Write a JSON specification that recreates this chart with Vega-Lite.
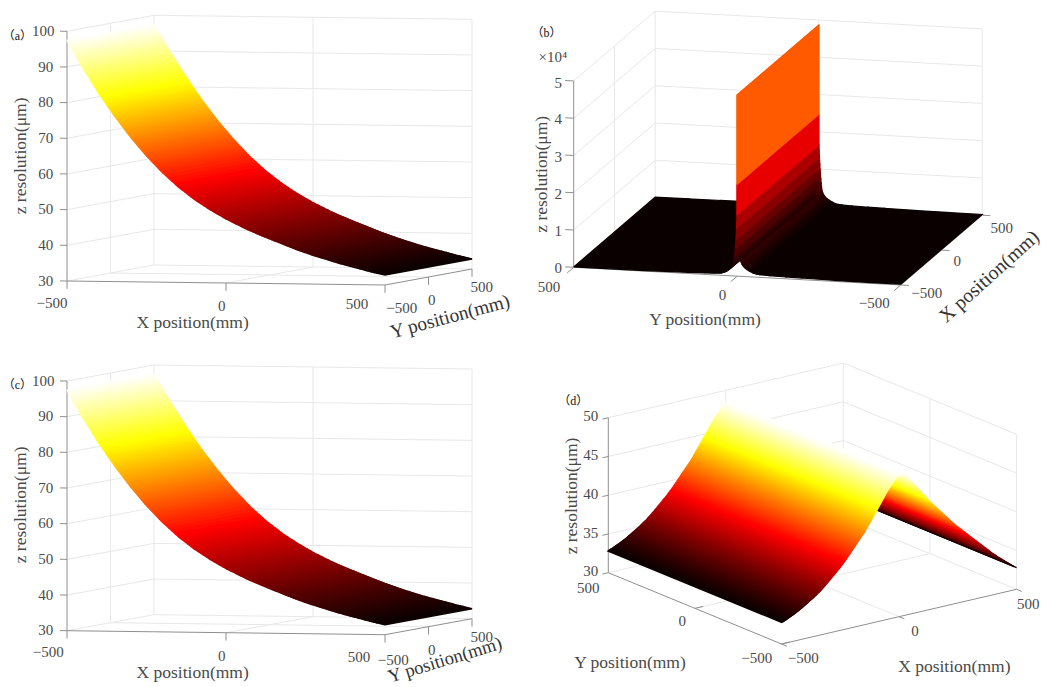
{"$schema":"https://vega.github.io/schema/vega-lite/v6.json","width":1045,"height":687,"autosize":{"type":"none"},"padding":0,"background":"white","config":{"view":{"stroke":null},"text":{"font":"Liberation Serif"}},
"datasets":{
"curveA":[{"X":-500,"z":97.5},{"X":-495,"z":96.7},{"X":-490,"z":95.9},{"X":-485,"z":95.1},{"X":-480,"z":94.3},{"X":-475,"z":93.6},{"X":-470,"z":92.8},{"X":-465,"z":92},{"X":-460,"z":91.3},{"X":-455,"z":90.5},{"X":-450,"z":89.8},{"X":-445,"z":89.1},{"X":-440,"z":88.4},{"X":-435,"z":87.7},{"X":-430,"z":87},{"X":-425,"z":86.3},{"X":-420,"z":85.6},{"X":-415,"z":84.9},{"X":-410,"z":84.2},{"X":-405,"z":83.5},{"X":-400,"z":82.8},{"X":-395,"z":82.15},{"X":-390,"z":81.5},{"X":-385,"z":80.9},{"X":-380,"z":80.25},{"X":-375,"z":79.6},{"X":-370,"z":78.95},{"X":-365,"z":78.3},{"X":-360,"z":77.7},{"X":-355,"z":77.05},{"X":-350,"z":76.4},{"X":-345,"z":75.8},{"X":-340,"z":75.25},{"X":-335,"z":74.65},{"X":-330,"z":74.1},{"X":-325,"z":73.5},{"X":-320,"z":72.9},{"X":-315,"z":72.35},{"X":-310,"z":71.75},{"X":-305,"z":71.2},{"X":-300,"z":70.6},{"X":-295,"z":70.1},{"X":-290,"z":69.55},{"X":-285,"z":69.05},{"X":-280,"z":68.5},{"X":-275,"z":68},{"X":-270,"z":67.5},{"X":-265,"z":66.95},{"X":-260,"z":66.45},{"X":-255,"z":65.9},{"X":-250,"z":65.4},{"X":-245,"z":64.95},{"X":-240,"z":64.5},{"X":-235,"z":64},{"X":-230,"z":63.55},{"X":-225,"z":63.1},{"X":-220,"z":62.65},{"X":-215,"z":62.2},{"X":-210,"z":61.7},{"X":-205,"z":61.25},{"X":-200,"z":60.8},{"X":-190,"z":60},{"X":-180,"z":59.2},{"X":-170,"z":58.4},{"X":-160,"z":57.6},{"X":-150,"z":56.8},{"X":-140,"z":56.1},{"X":-130,"z":55.45},{"X":-120,"z":54.75},{"X":-110,"z":54.1},{"X":-100,"z":53.4},{"X":-90,"z":52.8},{"X":-80,"z":52.25},{"X":-70,"z":51.65},{"X":-60,"z":51.1},{"X":-50,"z":50.5},{"X":-40,"z":50},{"X":-30,"z":49.5},{"X":-20,"z":49},{"X":-10,"z":48.5},{"X":0,"z":48},{"X":15,"z":47.35},{"X":30,"z":46.7},{"X":45,"z":46.05},{"X":60,"z":45.4},{"X":67.5,"z":45.1},{"X":75,"z":44.8},{"X":82.5,"z":44.52},{"X":90,"z":44.25},{"X":97.5,"z":43.97},{"X":105,"z":43.7},{"X":112.5,"z":43.42},{"X":120,"z":43.15},{"X":127.5,"z":42.9},{"X":135,"z":42.63},{"X":142.5,"z":42.37},{"X":150,"z":42.1},{"X":157.5,"z":41.85},{"X":165,"z":41.6},{"X":172.5,"z":41.35},{"X":180,"z":41.08},{"X":187.5,"z":40.82},{"X":195,"z":40.56},{"X":202.5,"z":40.3},{"X":210,"z":40.05},{"X":217.5,"z":39.8},{"X":225,"z":39.56},{"X":232.5,"z":39.33},{"X":240,"z":39.1},{"X":247.5,"z":38.87},{"X":255,"z":38.65},{"X":262.5,"z":38.42},{"X":270,"z":38.2},{"X":277.5,"z":38},{"X":285,"z":37.8},{"X":292.5,"z":37.6},{"X":300,"z":37.4},{"X":307.5,"z":37.2},{"X":315,"z":37},{"X":322.5,"z":36.8},{"X":330,"z":36.6},{"X":337.5,"z":36.4},{"X":345,"z":36.2},{"X":352.5,"z":36.02},{"X":360,"z":35.85},{"X":367.5,"z":35.67},{"X":375,"z":35.5},{"X":382.5,"z":35.32},{"X":390,"z":35.15},{"X":397.5,"z":35},{"X":405,"z":34.83},{"X":412.5,"z":34.66},{"X":420,"z":34.5},{"X":427.5,"z":34.33},{"X":435,"z":34.15},{"X":442.5,"z":33.98},{"X":450,"z":33.8},{"X":457.5,"z":33.65},{"X":465,"z":33.5},{"X":472.5,"z":33.35},{"X":480,"z":33.2},{"X":490,"z":33},{"X":500,"z":32.8}],
"curveB":[{"s":"R","Y":-500,"z":0.02},{"s":"R","Y":-400,"z":0.022},{"s":"R","Y":-300,"z":0.029},{"s":"R","Y":-200,"z":0.043},{"s":"R","Y":-150,"z":0.049},{"s":"R","Y":-100,"z":0.059},{"s":"R","Y":-70,"z":0.07},{"s":"R","Y":-60,"z":0.08},{"s":"R","Y":-50,"z":0.1},{"s":"R","Y":-40,"z":0.14},{"s":"R","Y":-30,"z":0.19},{"s":"R","Y":-25,"z":0.22},{"s":"R","Y":-20,"z":0.26},{"s":"R","Y":-15,"z":0.32},{"s":"R","Y":-12,"z":0.38},{"s":"R","Y":-10,"z":0.43},{"s":"R","Y":-9,"z":0.5},{"s":"R","Y":-7.5,"z":0.63},{"s":"R","Y":-6.5,"z":0.73},{"s":"R","Y":-5.5,"z":0.85},{"s":"R","Y":-4.5,"z":0.97},{"s":"R","Y":-3.5,"z":1.12},{"s":"R","Y":-2.5,"z":1.28},{"s":"R","Y":-1,"z":1.64},{"s":"R","Y":-1,"z":2.46},{"s":"R","Y":-1,"z":4.86},
{"s":"L","Y":500,"z":0.01},{"s":"L","Y":400,"z":0.012},{"s":"L","Y":300,"z":0.015},{"s":"L","Y":200,"z":0.024},{"s":"L","Y":150,"z":0.031},{"s":"L","Y":100,"z":0.04},{"s":"L","Y":70,"z":0.046},{"s":"L","Y":55,"z":0.052},{"s":"L","Y":50,"z":0.056},{"s":"L","Y":45,"z":0.07},{"s":"L","Y":40,"z":0.085},{"s":"L","Y":35,"z":0.1},{"s":"L","Y":30,"z":0.13},{"s":"L","Y":25,"z":0.165},{"s":"L","Y":20,"z":0.21},{"s":"L","Y":15,"z":0.29},{"s":"L","Y":12,"z":0.34},{"s":"L","Y":10,"z":0.4},{"s":"L","Y":8.5,"z":0.5},{"s":"L","Y":7,"z":0.63},{"s":"L","Y":6,"z":0.73},{"s":"L","Y":5,"z":0.85},{"s":"L","Y":4,"z":0.97},{"s":"L","Y":3,"z":1.12},{"s":"L","Y":2,"z":1.28},{"s":"L","Y":1,"z":1.64},{"s":"L","Y":1,"z":2.46},{"s":"L","Y":1,"z":4.86}],
"curveD":[{"X":500,"z":32.8},{"X":490,"z":33},{"X":480,"z":33.25},{"X":470,"z":33.5},{"X":460,"z":33.75},{"X":450,"z":34},{"X":440,"z":34.25},{"X":430,"z":34.5},{"X":420,"z":34.75},{"X":410,"z":35.05},{"X":400,"z":35.3},{"X":390,"z":35.6},{"X":380,"z":35.9},{"X":370,"z":36.2},{"X":360,"z":36.5},{"X":350,"z":36.8},{"X":340,"z":37.1},{"X":330,"z":37.4},{"X":320,"z":37.7},{"X":310,"z":38},{"X":300,"z":38.3},{"X":290,"z":38.6},{"X":280,"z":38.9},{"X":270,"z":39.2},{"X":260,"z":39.5},{"X":250,"z":39.8},{"X":240,"z":40.1},{"X":230,"z":40.45},{"X":220,"z":40.8},{"X":210,"z":41.15},{"X":200,"z":41.5},{"X":190,"z":41.85},{"X":180,"z":42.2},{"X":170,"z":42.55},{"X":160,"z":42.9},{"X":150,"z":43.25},{"X":140,"z":43.6},{"X":130,"z":43.95},{"X":120,"z":44.35},{"X":110,"z":44.75},{"X":100,"z":45.15},{"X":90,"z":45.55},{"X":80,"z":45.95},{"X":70,"z":46.35},{"X":60,"z":46.75},{"X":50,"z":47.15},{"X":40,"z":47.55},{"X":30,"z":47.95},{"X":20,"z":48.3},{"X":10,"z":48.4},{"X":0,"z":48.4},{"X":-5,"z":48.28},{"X":-10,"z":48.14},{"X":-15,"z":47.98},{"X":-20,"z":47.8},{"X":-25,"z":47.6},{"X":-30,"z":47.4},{"X":-35,"z":47.2},{"X":-40,"z":47},{"X":-45,"z":46.8},{"X":-50,"z":46.6},{"X":-55,"z":46.36},{"X":-60,"z":46.12},{"X":-65,"z":45.88},{"X":-70,"z":45.64},{"X":-75,"z":45.4},{"X":-80,"z":45.16},{"X":-85,"z":44.92},{"X":-90,"z":44.68},{"X":-95,"z":44.44},{"X":-100,"z":44.2},{"X":-105,"z":43.96},{"X":-110,"z":43.73},{"X":-115,"z":43.5},{"X":-120,"z":43.27},{"X":-125,"z":43.04},{"X":-130,"z":42.81},{"X":-135,"z":42.58},{"X":-140,"z":42.35},{"X":-145,"z":42.12},{"X":-150,"z":41.9},{"X":-155,"z":41.71},{"X":-160,"z":41.52},{"X":-165,"z":41.33},{"X":-170,"z":41.14},{"X":-175,"z":40.95},{"X":-180,"z":40.76},{"X":-185,"z":40.57},{"X":-190,"z":40.38},{"X":-195,"z":40.19},{"X":-200,"z":40},{"X":-205,"z":39.81},{"X":-210,"z":39.62},{"X":-215,"z":39.43},{"X":-220,"z":39.25},{"X":-225,"z":39.05},{"X":-230,"z":38.88},{"X":-235,"z":38.71},{"X":-240,"z":38.54},{"X":-245,"z":38.37},{"X":-250,"z":38.2},{"X":-255,"z":38.05},{"X":-260,"z":37.9},{"X":-265,"z":37.75},{"X":-270,"z":37.6},{"X":-275,"z":37.45},{"X":-280,"z":37.3},{"X":-285,"z":37.15},{"X":-290,"z":37},{"X":-295,"z":36.85},{"X":-300,"z":36.7},{"X":-305,"z":36.55},{"X":-310,"z":36.42},{"X":-315,"z":36.28},{"X":-320,"z":36.14},{"X":-325,"z":36},{"X":-330,"z":35.87},{"X":-335,"z":35.74},{"X":-340,"z":35.61},{"X":-345,"z":35.5},{"X":-350,"z":35.38},{"X":-355,"z":35.27},{"X":-360,"z":35.16},{"X":-365,"z":35.05},{"X":-370,"z":34.95},{"X":-375,"z":34.85},{"X":-380,"z":34.75},{"X":-385,"z":34.65},{"X":-390,"z":34.55},{"X":-395,"z":34.45},{"X":-400,"z":34.35},{"X":-405,"z":34.25},{"X":-410,"z":34.15},{"X":-415,"z":34.06},{"X":-420,"z":33.97},{"X":-425,"z":33.88},{"X":-430,"z":33.8},{"X":-435,"z":33.72},{"X":-440,"z":33.63},{"X":-445,"z":33.55},{"X":-450,"z":33.47},{"X":-455,"z":33.4},{"X":-460,"z":33.33},{"X":-465,"z":33.26},{"X":-470,"z":33.19},{"X":-475,"z":33.12},{"X":-480,"z":33.05},{"X":-485,"z":32.98},{"X":-490,"z":32.92},{"X":-495,"z":32.86},{"X":-500,"z":32.8}],
"frameA":[
{"X":-500,"Y":-500,"Z":40,"X2":-500,"Y2":500,"Z2":40,"k":"g"},{"X":-500,"Y":-500,"Z":50,"X2":-500,"Y2":500,"Z2":50,"k":"g"},{"X":-500,"Y":-500,"Z":60,"X2":-500,"Y2":500,"Z2":60,"k":"g"},{"X":-500,"Y":-500,"Z":70,"X2":-500,"Y2":500,"Z2":70,"k":"g"},{"X":-500,"Y":-500,"Z":80,"X2":-500,"Y2":500,"Z2":80,"k":"g"},{"X":-500,"Y":-500,"Z":90,"X2":-500,"Y2":500,"Z2":90,"k":"g"},{"X":-500,"Y":-500,"Z":100,"X2":-500,"Y2":500,"Z2":100,"k":"g"},{"X":-500,"Y":-500,"Z":30,"X2":-500,"Y2":500,"Z2":30,"k":"g"},
{"X":-500,"Y":500,"Z":30,"X2":500,"Y2":500,"Z2":30,"k":"g"},{"X":-500,"Y":500,"Z":40,"X2":500,"Y2":500,"Z2":40,"k":"g"},{"X":-500,"Y":500,"Z":50,"X2":500,"Y2":500,"Z2":50,"k":"g"},{"X":-500,"Y":500,"Z":60,"X2":500,"Y2":500,"Z2":60,"k":"g"},{"X":-500,"Y":500,"Z":70,"X2":500,"Y2":500,"Z2":70,"k":"g"},{"X":-500,"Y":500,"Z":80,"X2":500,"Y2":500,"Z2":80,"k":"g"},{"X":-500,"Y":500,"Z":90,"X2":500,"Y2":500,"Z2":90,"k":"g"},{"X":-500,"Y":500,"Z":100,"X2":500,"Y2":500,"Z2":100,"k":"g"},
{"X":-500,"Y":0,"Z":30,"X2":-500,"Y2":0,"Z2":100,"k":"g"},{"X":-500,"Y":500,"Z":30,"X2":-500,"Y2":500,"Z2":100,"k":"g"},{"X":0,"Y":500,"Z":30,"X2":0,"Y2":500,"Z2":100,"k":"g"},{"X":500,"Y":500,"Z":30,"X2":500,"Y2":500,"Z2":100,"k":"g"},{"X":0,"Y":-500,"Z":30,"X2":0,"Y2":500,"Z2":30,"k":"g"},{"X":-500,"Y":0,"Z":30,"X2":500,"Y2":0,"Z2":30,"k":"g"},
{"X":-500,"Y":-500,"Z":30,"X2":-500,"Y2":-500,"Z2":100,"k":"a"},{"X":-500,"Y":-500,"Z":30,"X2":500,"Y2":-500,"Z2":30,"k":"a"},{"X":500,"Y":-500,"Z":30,"X2":500,"Y2":500,"Z2":30,"k":"a"},
{"X":-500,"Y":-500,"Z":30,"X2":-522,"Y2":-500,"Z2":30,"k":"a"},{"X":-500,"Y":-500,"Z":40,"X2":-522,"Y2":-500,"Z2":40,"k":"a"},{"X":-500,"Y":-500,"Z":50,"X2":-522,"Y2":-500,"Z2":50,"k":"a"},{"X":-500,"Y":-500,"Z":60,"X2":-522,"Y2":-500,"Z2":60,"k":"a"},{"X":-500,"Y":-500,"Z":70,"X2":-522,"Y2":-500,"Z2":70,"k":"a"},{"X":-500,"Y":-500,"Z":80,"X2":-522,"Y2":-500,"Z2":80,"k":"a"},{"X":-500,"Y":-500,"Z":90,"X2":-522,"Y2":-500,"Z2":90,"k":"a"},{"X":-500,"Y":-500,"Z":100,"X2":-522,"Y2":-500,"Z2":100,"k":"a"},
{"X":-500,"Y":-500,"Z":30,"X2":-500,"Y2":-500,"Z2":27.8,"k":"a"},{"X":0,"Y":-500,"Z":30,"X2":0,"Y2":-500,"Z2":27.8,"k":"a"},{"X":500,"Y":-500,"Z":30,"X2":500,"Y2":-500,"Z2":27.8,"k":"a"},{"X":500,"Y":0,"Z":30,"X2":500,"Y2":0,"Z2":27.8,"k":"a"},{"X":500,"Y":500,"Z":30,"X2":500,"Y2":500,"Z2":27.8,"k":"a"}],
"frameB":[
{"X":-500,"Y":500,"Z":1,"X2":500,"Y2":500,"Z2":1,"k":"g"},{"X":-500,"Y":500,"Z":2,"X2":500,"Y2":500,"Z2":2,"k":"g"},{"X":-500,"Y":500,"Z":3,"X2":500,"Y2":500,"Z2":3,"k":"g"},{"X":-500,"Y":500,"Z":4,"X2":500,"Y2":500,"Z2":4,"k":"g"},{"X":-500,"Y":500,"Z":5,"X2":500,"Y2":500,"Z2":5,"k":"g"},
{"X":500,"Y":500,"Z":1,"X2":500,"Y2":-500,"Z2":1,"k":"g"},{"X":500,"Y":500,"Z":2,"X2":500,"Y2":-500,"Z2":2,"k":"g"},{"X":500,"Y":500,"Z":3,"X2":500,"Y2":-500,"Z2":3,"k":"g"},{"X":500,"Y":500,"Z":4,"X2":500,"Y2":-500,"Z2":4,"k":"g"},{"X":500,"Y":500,"Z":5,"X2":500,"Y2":-500,"Z2":5,"k":"g"},{"X":500,"Y":500,"Z":0,"X2":500,"Y2":-500,"Z2":0,"k":"g"},
{"X":0,"Y":500,"Z":0,"X2":0,"Y2":500,"Z2":5,"k":"g"},{"X":500,"Y":500,"Z":0,"X2":500,"Y2":500,"Z2":5,"k":"g"},{"X":500,"Y":0,"Z":0,"X2":500,"Y2":0,"Z2":5,"k":"g"},{"X":500,"Y":-500,"Z":0,"X2":500,"Y2":-500,"Z2":5,"k":"g"},
{"X":-500,"Y":500,"Z":0,"X2":-500,"Y2":500,"Z2":5,"k":"a"},{"X":-500,"Y":500,"Z":0,"X2":-500,"Y2":-500,"Z2":0,"k":"a"},{"X":-500,"Y":-500,"Z":0,"X2":500,"Y2":-500,"Z2":0,"k":"a"},
{"X":-500,"Y":500,"Z":0,"X2":-500,"Y2":526,"Z2":0,"k":"a"},{"X":-500,"Y":500,"Z":1,"X2":-500,"Y2":526,"Z2":1,"k":"a"},{"X":-500,"Y":500,"Z":2,"X2":-500,"Y2":526,"Z2":2,"k":"a"},{"X":-500,"Y":500,"Z":3,"X2":-500,"Y2":526,"Z2":3,"k":"a"},{"X":-500,"Y":500,"Z":4,"X2":-500,"Y2":526,"Z2":4,"k":"a"},{"X":-500,"Y":500,"Z":5,"X2":-500,"Y2":526,"Z2":5,"k":"a"},
{"X":-500,"Y":500,"Z":0,"X2":-580,"Y2":500,"Z2":0,"k":"a"},{"X":-500,"Y":0,"Z":0,"X2":-580,"Y2":0,"Z2":0,"k":"a"},{"X":-500,"Y":-500,"Z":0,"X2":-580,"Y2":-500,"Z2":0,"k":"a"},
{"X":-500,"Y":-500,"Z":0,"X2":-500,"Y2":-525,"Z2":0,"k":"a"},{"X":0,"Y":-500,"Z":0,"X2":0,"Y2":-525,"Z2":0,"k":"a"},{"X":500,"Y":-500,"Z":0,"X2":500,"Y2":-525,"Z2":0,"k":"a"}],
"frameD":[
{"X":-500,"Y":500,"Z":35,"X2":500,"Y2":500,"Z2":35,"k":"g"},{"X":-500,"Y":500,"Z":40,"X2":500,"Y2":500,"Z2":40,"k":"g"},{"X":-500,"Y":500,"Z":45,"X2":500,"Y2":500,"Z2":45,"k":"g"},{"X":-500,"Y":500,"Z":50,"X2":500,"Y2":500,"Z2":50,"k":"g"},{"X":-500,"Y":500,"Z":30,"X2":500,"Y2":500,"Z2":30,"k":"g"},
{"X":500,"Y":500,"Z":30,"X2":500,"Y2":-500,"Z2":30,"k":"g"},{"X":500,"Y":500,"Z":35,"X2":500,"Y2":-500,"Z2":35,"k":"g"},{"X":500,"Y":500,"Z":40,"X2":500,"Y2":-500,"Z2":40,"k":"g"},{"X":500,"Y":500,"Z":45,"X2":500,"Y2":-500,"Z2":45,"k":"g"},{"X":500,"Y":500,"Z":50,"X2":500,"Y2":-500,"Z2":50,"k":"g"},
{"X":0,"Y":500,"Z":30,"X2":0,"Y2":500,"Z2":50,"k":"g"},{"X":500,"Y":500,"Z":30,"X2":500,"Y2":500,"Z2":50,"k":"g"},{"X":500,"Y":0,"Z":30,"X2":500,"Y2":0,"Z2":50,"k":"g"},{"X":500,"Y":-500,"Z":30,"X2":500,"Y2":-500,"Z2":50,"k":"g"},
{"X":0,"Y":500,"Z":30,"X2":0,"Y2":-500,"Z2":30,"k":"g"},{"X":-500,"Y":0,"Z":30,"X2":500,"Y2":0,"Z2":30,"k":"g"},
{"X":-500,"Y":500,"Z":30,"X2":-500,"Y2":500,"Z2":50,"k":"a"},{"X":-500,"Y":500,"Z":30,"X2":-500,"Y2":-500,"Z2":30,"k":"a"},{"X":-500,"Y":-500,"Z":30,"X2":500,"Y2":-500,"Z2":30,"k":"a"},
{"X":-500,"Y":500,"Z":30,"X2":-525,"Y2":500,"Z2":30,"k":"a"},{"X":-500,"Y":500,"Z":35,"X2":-525,"Y2":500,"Z2":35,"k":"a"},{"X":-500,"Y":500,"Z":40,"X2":-525,"Y2":500,"Z2":40,"k":"a"},{"X":-500,"Y":500,"Z":45,"X2":-525,"Y2":500,"Z2":45,"k":"a"},{"X":-500,"Y":500,"Z":50,"X2":-525,"Y2":500,"Z2":50,"k":"a"},
{"X":-500,"Y":0,"Z":30,"X2":-465,"Y2":0,"Z2":30,"k":"a"},{"X":-500,"Y":-500,"Z":30,"X2":-465,"Y2":-500,"Z2":30,"k":"a"},
{"X":-500,"Y":-500,"Z":30,"X2":-500,"Y2":-530,"Z2":30,"k":"a"},{"X":0,"Y":-500,"Z":30,"X2":0,"Y2":-530,"Z2":30,"k":"a"},{"X":500,"Y":-500,"Z":30,"X2":500,"Y2":-530,"Z2":30,"k":"a"}],
"textA":[{"X":-575,"Y":-500,"Z":100,"t":"100","p":"tick"},{"X":-567,"Y":-500,"Z":90,"t":"90","p":"tick"},{"X":-567,"Y":-500,"Z":80,"t":"80","p":"tick"},{"X":-567,"Y":-500,"Z":70,"t":"70","p":"tick"},{"X":-567,"Y":-500,"Z":60,"t":"60","p":"tick"},{"X":-567,"Y":-500,"Z":50,"t":"50","p":"tick"},{"X":-567,"Y":-500,"Z":40,"t":"40","p":"tick"},{"X":-567,"Y":-500,"Z":30,"t":"30","p":"tick"},{"X":-547,"Y":-500,"Z":23.8,"t":"−500","p":"tick"},{"X":-13.5,"Y":-500,"Z":23.6,"t":"0","p":"tick"},{"X":412,"Y":-500,"Z":24.5,"t":"500","p":"tick"},{"X":500,"Y":-308,"Z":22.6,"t":"−500","p":"tick"},{"X":500,"Y":37,"Z":23.4,"t":"0","p":"tick"},{"X":500,"Y":611,"Z":24.4,"t":"500","p":"tick"},{"X":-105,"Y":-500,"Z":18.6,"t":"X position(mm)","p":"title"},{"X":-645.6,"Y":-500,"Z":64.9,"t":"z resolution(μm)","p":"ztitle"},{"X":500,"Y":247,"Z":17.75,"t":"Y position(mm)","p":"ytitle"},{"X":-656,"Y":-500,"Z":98.5,"t":"（a）","p":"tag"}],
"textC":[{"X":-575,"Y":-500,"Z":100,"t":"100","p":"tick"},{"X":-567,"Y":-500,"Z":90,"t":"90","p":"tick"},{"X":-567,"Y":-500,"Z":80,"t":"80","p":"tick"},{"X":-567,"Y":-500,"Z":70,"t":"70","p":"tick"},{"X":-567,"Y":-500,"Z":60,"t":"60","p":"tick"},{"X":-567,"Y":-500,"Z":50,"t":"50","p":"tick"},{"X":-567,"Y":-500,"Z":40,"t":"40","p":"tick"},{"X":-567,"Y":-500,"Z":30,"t":"30","p":"tick"},{"X":-559,"Y":-500,"Z":23.9,"t":"−500","p":"tick"},{"X":-13.5,"Y":-500,"Z":23.4,"t":"0","p":"tick"},{"X":418,"Y":-500,"Z":23.75,"t":"500","p":"tick"},{"X":500,"Y":-405,"Z":22.5,"t":"−500","p":"tick"},{"X":500,"Y":37,"Z":23.3,"t":"0","p":"tick"},{"X":500,"Y":611,"Z":24.3,"t":"500","p":"tick"},{"X":-105,"Y":-500,"Z":18.5,"t":"X position(mm)","p":"title"},{"X":-645.6,"Y":-500,"Z":65.1,"t":"z resolution(μm)","p":"ztitle"},{"X":500,"Y":190,"Z":19.9,"t":"Y position(mm)","p":"ytitle"},{"X":-656,"Y":-500,"Z":98.7,"t":"（c）","p":"tag"}],
"textB":[{"X":-500,"Y":547,"Z":4.93,"t":"5","p":"tick"},{"X":-500,"Y":547,"Z":3.95,"t":"4","p":"tick"},{"X":-500,"Y":547,"Z":2.95,"t":"3","p":"tick"},{"X":-500,"Y":547,"Z":1.95,"t":"2","p":"tick"},{"X":-500,"Y":547,"Z":0.96,"t":"1","p":"tick"},{"X":-500,"Y":547,"Z":-0.04,"t":"0","p":"tick"},{"X":-500,"Y":564,"Z":5.6,"t":"×10⁴","p":"tick"},{"X":-500,"Y":575.5,"Z":-0.57,"t":"500","p":"tick"},{"X":-500,"Y":45,"Z":-0.53,"t":"0","p":"tick"},{"X":-500,"Y":-419,"Z":-0.53,"t":"−500","p":"tick"},{"X":-181,"Y":-500,"Z":-0.82,"t":"−500","p":"tick"},{"X":195,"Y":-500,"Z":-0.65,"t":"0","p":"tick"},{"X":740,"Y":-500,"Z":-0.78,"t":"500","p":"tick"},{"X":-500,"Y":98.5,"Z":-1.22,"t":"Y position(mm)","p":"title"},{"X":-500,"Y":596,"Z":2.45,"t":"z resolution(μm)","p":"ztitle"},{"X":587,"Y":-500,"Z":-1.81,"t":"X position(mm)","p":"xtitle"},{"X":-500,"Y":583,"Z":6.24,"t":"（b）","p":"tag"}],
"textD":[{"X":-575,"Y":500,"Z":50.7,"t":"50","p":"tick"},{"X":-575,"Y":500,"Z":45.7,"t":"45","p":"tick"},{"X":-575,"Y":500,"Z":40.7,"t":"40","p":"tick"},{"X":-575,"Y":500,"Z":35.7,"t":"35","p":"tick"},{"X":-575,"Y":500,"Z":30.7,"t":"30","p":"tick"},{"X":-500,"Y":615,"Z":26.93,"t":"500","p":"tick"},{"X":-500,"Y":73,"Z":27.69,"t":"0","p":"tick"},{"X":-500,"Y":-357,"Z":26.84,"t":"−500","p":"tick"},{"X":-408,"Y":-500,"Z":27.51,"t":"−500","p":"tick"},{"X":68,"Y":-500,"Z":27.7,"t":"0","p":"tick"},{"X":550,"Y":-500,"Z":27.72,"t":"500","p":"tick"},{"X":-500,"Y":375,"Z":19.5,"t":"Y position(mm)","p":"title"},{"X":235,"Y":-500,"Z":21.85,"t":"X position(mm)","p":"title"},{"X":-656,"Y":500,"Z":41,"t":"z resolution(μm)","p":"ztitle"},{"X":-649,"Y":500,"Z":53.2,"t":"（d）","p":"tag"}]
},
"encoding":{"x":{"field":"sx","type":"quantitative","scale":{"domain":[0,1045],"nice":false,"zero":false},"axis":null},"y":{"field":"sy","type":"quantitative","scale":{"domain":[687,0],"nice":false,"zero":false},"axis":null}},
"resolve":{"scale":{"color":"independent","fill":"independent","stroke":"independent"}},
"layer":[
{"data":{"name":"frameA"},"transform":[{"calculate":"67+0.318*(datum.X+500)+0.087*(datum.Y+500)","as":"sx"},{"calculate":"281+0.004*(datum.X+500)-0.016*(datum.Y+500)-3.567*(datum.Z-30)","as":"sy"},{"calculate":"67+0.318*(datum.X2+500)+0.087*(datum.Y2+500)","as":"ex"},{"calculate":"281+0.004*(datum.X2+500)-0.016*(datum.Y2+500)-3.567*(datum.Z2-30)","as":"ey"}],"mark":{"type":"rule","strokeWidth":1},"encoding":{"x2":{"field":"ex"},"y2":{"field":"ey"},"color":{"field":"k","type":"nominal","scale":{"domain":["g","a"],"range":["#e8e8e8","#8f8f8f"]},"legend":null}}},
{"data":{"name":"frameA"},"transform":[{"calculate":"67+0.318*(datum.X+500)+0.087*(datum.Y+500)","as":"sx"},{"calculate":"630.7+0.004*(datum.X+500)-0.016*(datum.Y+500)-3.567*(datum.Z-30)","as":"sy"},{"calculate":"67+0.318*(datum.X2+500)+0.087*(datum.Y2+500)","as":"ex"},{"calculate":"630.7+0.004*(datum.X2+500)-0.016*(datum.Y2+500)-3.567*(datum.Z2-30)","as":"ey"}],"mark":{"type":"rule","strokeWidth":1},"encoding":{"x2":{"field":"ex"},"y2":{"field":"ey"},"color":{"field":"k","type":"nominal","scale":{"domain":["g","a"],"range":["#e8e8e8","#8f8f8f"]},"legend":null}}},
{"data":{"name":"frameB"},"transform":[{"calculate":"573.7+0.327*(500-datum.Y)+0.0815*(datum.X+500)","as":"sx"},{"calculate":"267.3+0.0177*(500-datum.Y)-0.0698*(datum.X+500)-37.27*datum.Z","as":"sy"},{"calculate":"573.7+0.327*(500-datum.Y2)+0.0815*(datum.X2+500)","as":"ex"},{"calculate":"267.3+0.0177*(500-datum.Y2)-0.0698*(datum.X2+500)-37.27*datum.Z2","as":"ey"}],"mark":{"type":"rule","strokeWidth":1},"encoding":{"x2":{"field":"ex"},"y2":{"field":"ey"},"color":{"field":"k","type":"nominal","scale":{"domain":["g","a"],"range":["#e8e8e8","#8f8f8f"]},"legend":null}}},
{"data":{"name":"frameD"},"transform":[{"calculate":"608.3+0.235*(datum.X+500)+0.1733*(500-datum.Y)","as":"sx"},{"calculate":"572.7-0.0547*(datum.X+500)+0.0713*(500-datum.Y)-7.75*(datum.Z-30)","as":"sy"},{"calculate":"608.3+0.235*(datum.X2+500)+0.1733*(500-datum.Y2)","as":"ex"},{"calculate":"572.7-0.0547*(datum.X2+500)+0.0713*(500-datum.Y2)-7.75*(datum.Z2-30)","as":"ey"}],"mark":{"type":"rule","strokeWidth":1},"encoding":{"x2":{"field":"ex"},"y2":{"field":"ey"},"color":{"field":"k","type":"nominal","scale":{"domain":["g","a"],"range":["#e8e8e8","#8f8f8f"]},"legend":null}}},
{"data":{"name":"curveA"},"transform":[{"window":[{"op":"row_number","as":"q"},{"op":"lead","field":"X","as":"X1"},{"op":"lead","field":"z","as":"z1"}]},{"filter":"datum.X1!=null"},{"calculate":"[0,1,2,3,4]","as":"c"},{"flatten":["c"]},{"calculate":"(datum.z+datum.z1)/2","as":"zc"},{"calculate":"(datum.c<2||datum.c==4)?datum.X:datum.X1","as":"PX"},{"calculate":"(datum.c<2||datum.c==4)?datum.z:datum.z1","as":"PZ"},{"calculate":"(datum.c==1||datum.c==2)?1000:0","as":"PY"},{"calculate":"67+0.318*(datum.PX+500)+0.087*datum.PY","as":"sx"},{"calculate":"281+0.004*(datum.PX+500)-0.016*datum.PY-3.567*(datum.PZ-30)","as":"sy"}],"mark":{"type":"line","filled":true,"strokeWidth":1.6},"encoding":{"order":{"field":"c"},"detail":{"field":"q"},"fill":{"field":"zc","type":"quantitative","scale":{"domain":[32.8,57.06,81.3,97.5],"range":["#0b0000","#ff0000","#ffff00","#ffffff"],"interpolate":"rgb","nice":false,"zero":false,"clamp":true},"legend":null},"stroke":{"field":"zc","type":"quantitative","scale":{"domain":[32.8,57.06,81.3,97.5],"range":["#0b0000","#ff0000","#ffff00","#ffffff"],"interpolate":"rgb","nice":false,"zero":false,"clamp":true},"legend":null}}},
{"data":{"name":"curveA"},"transform":[{"window":[{"op":"row_number","as":"q"},{"op":"lead","field":"X","as":"X1"},{"op":"lead","field":"z","as":"z1"}]},{"filter":"datum.X1!=null"},{"calculate":"[0,1,2,3,4]","as":"c"},{"flatten":["c"]},{"calculate":"(datum.z+datum.z1)/2","as":"zc"},{"calculate":"(datum.c<2||datum.c==4)?datum.X:datum.X1","as":"PX"},{"calculate":"(datum.c<2||datum.c==4)?datum.z:datum.z1","as":"PZ"},{"calculate":"(datum.c==1||datum.c==2)?1000:0","as":"PY"},{"calculate":"67+0.318*(datum.PX+500)+0.087*datum.PY","as":"sx"},{"calculate":"630.7+0.004*(datum.PX+500)-0.016*datum.PY-3.567*(datum.PZ-30)","as":"sy"}],"mark":{"type":"line","filled":true,"strokeWidth":1.6},"encoding":{"order":{"field":"c"},"detail":{"field":"q"},"fill":{"field":"zc","type":"quantitative","scale":{"domain":[32.8,57.06,81.3,97.5],"range":["#0b0000","#ff0000","#ffff00","#ffffff"],"interpolate":"rgb","nice":false,"zero":false,"clamp":true},"legend":null},"stroke":{"field":"zc","type":"quantitative","scale":{"domain":[32.8,57.06,81.3,97.5],"range":["#0b0000","#ff0000","#ffff00","#ffffff"],"interpolate":"rgb","nice":false,"zero":false,"clamp":true},"legend":null}}},
{"data":{"name":"curveB"},"transform":[{"filter":"datum.s=='R'"},{"window":[{"op":"row_number","as":"q"},{"op":"lead","field":"Y","as":"Y1"},{"op":"lead","field":"z","as":"z1"}]},{"filter":"datum.Y1!=null"},{"calculate":"[0,1,2,3,4]","as":"c"},{"flatten":["c"]},{"calculate":"(datum.z+datum.z1)/2","as":"zc"},{"calculate":"(datum.c<2||datum.c==4)?datum.Y:datum.Y1","as":"PY"},{"calculate":"(datum.c<2||datum.c==4)?datum.z:datum.z1","as":"PZ"},{"calculate":"(datum.c==1||datum.c==2)?1000:0","as":"PX"},{"calculate":"573.7+0.327*(500-datum.PY)+0.0815*datum.PX","as":"sx"},{"calculate":"267.3+0.0177*(500-datum.PY)-0.0698*datum.PX-37.27*datum.PZ","as":"sy"}],"mark":{"type":"line","filled":true,"strokeWidth":1.2},"encoding":{"order":{"field":"c"},"detail":{"field":"q"},"fill":{"field":"zc","type":"quantitative","scale":{"domain":[0,0.12,0.3,0.5,0.51,0.73,0.74,0.96,0.97,1.28,1.29,1.64,1.65,2.46,2.47,5],"range":["#0b0000","#0b0000","#2a0000","#3a0000","#4c0000","#4c0000","#680000","#680000","#880000","#880000","#ac0000","#ac0000","#e80000","#e80000","#ff5a00","#ff5a00"],"interpolate":"rgb","nice":false,"zero":false,"clamp":true},"legend":null},"stroke":{"field":"zc","type":"quantitative","scale":{"domain":[0,0.12,0.3,0.5,0.51,0.73,0.74,0.96,0.97,1.28,1.29,1.64,1.65,2.46,2.47,5],"range":["#0b0000","#0b0000","#2a0000","#3a0000","#4c0000","#4c0000","#680000","#680000","#880000","#880000","#ac0000","#ac0000","#e80000","#e80000","#ff5a00","#ff5a00"],"interpolate":"rgb","nice":false,"zero":false,"clamp":true},"legend":null}}},
{"data":{"name":"curveB"},"transform":[{"filter":"datum.s=='L'"},{"window":[{"op":"row_number","as":"q"},{"op":"lead","field":"Y","as":"Y1"},{"op":"lead","field":"z","as":"z1"}]},{"filter":"datum.Y1!=null"},{"calculate":"[0,1,2,3,4]","as":"c"},{"flatten":["c"]},{"calculate":"(datum.z+datum.z1)/2","as":"zc"},{"calculate":"(datum.c<2||datum.c==4)?datum.Y:datum.Y1","as":"PY"},{"calculate":"(datum.c<2||datum.c==4)?datum.z:datum.z1","as":"PZ"},{"calculate":"(datum.c==1||datum.c==2)?1000:0","as":"PX"},{"calculate":"573.7+0.327*(500-datum.PY)+0.0815*datum.PX","as":"sx"},{"calculate":"267.3+0.0177*(500-datum.PY)-0.0698*datum.PX-37.27*datum.PZ","as":"sy"}],"mark":{"type":"line","filled":true,"strokeWidth":1.2},"encoding":{"order":{"field":"c"},"detail":{"field":"q"},"fill":{"field":"zc","type":"quantitative","scale":{"domain":[0,0.12,0.3,0.5,0.51,0.73,0.74,0.96,0.97,1.28,1.29,1.64,1.65,2.46,2.47,5],"range":["#0b0000","#0b0000","#2a0000","#3a0000","#4c0000","#4c0000","#680000","#680000","#880000","#880000","#ac0000","#ac0000","#e80000","#e80000","#ff5a00","#ff5a00"],"interpolate":"rgb","nice":false,"zero":false,"clamp":true},"legend":null},"stroke":{"field":"zc","type":"quantitative","scale":{"domain":[0,0.12,0.3,0.5,0.51,0.73,0.74,0.96,0.97,1.28,1.29,1.64,1.65,2.46,2.47,5],"range":["#0b0000","#0b0000","#2a0000","#3a0000","#4c0000","#4c0000","#680000","#680000","#880000","#880000","#ac0000","#ac0000","#e80000","#e80000","#ff5a00","#ff5a00"],"interpolate":"rgb","nice":false,"zero":false,"clamp":true},"legend":null}}},
{"data":{"name":"curveD"},"transform":[{"window":[{"op":"row_number","as":"q"},{"op":"lead","field":"X","as":"X1"},{"op":"lead","field":"z","as":"z1"}]},{"filter":"datum.X1!=null && datum.X>=10"},{"calculate":"[0,1,2,3,4]","as":"c"},{"flatten":["c"]},{"calculate":"(datum.z+datum.z1)/2","as":"zc"},{"calculate":"(datum.c<2||datum.c==4)?datum.X:datum.X1","as":"PX"},{"calculate":"(datum.c<2||datum.c==4)?datum.z:datum.z1","as":"PZ"},{"calculate":"(datum.c==1||datum.c==2)?1000:0","as":"PB"},{"calculate":"608.3+0.235*(datum.PX+500)+0.1733*datum.PB","as":"sx"},{"calculate":"572.7-0.0547*(datum.PX+500)+0.0713*datum.PB-7.75*(datum.PZ-30)","as":"sy"}],"mark":{"type":"line","filled":true,"strokeWidth":1.2},"encoding":{"order":{"field":"c"},"detail":{"field":"q"},"fill":{"field":"zc","type":"quantitative","scale":{"domain":[32.8,38.65,44.5,48.4],"range":["#0b0000","#ff0000","#ffff00","#ffffff"],"interpolate":"rgb","nice":false,"zero":false,"clamp":true},"legend":null},"stroke":{"field":"zc","type":"quantitative","scale":{"domain":[32.8,38.65,44.5,48.4],"range":["#0b0000","#ff0000","#ffff00","#ffffff"],"interpolate":"rgb","nice":false,"zero":false,"clamp":true},"legend":null}}},
{"data":{"name":"curveD"},"transform":[{"window":[{"op":"row_number","as":"q"},{"op":"lead","field":"X","as":"X1"},{"op":"lead","field":"z","as":"z1"}]},{"filter":"datum.X1!=null && datum.X<=0"},{"calculate":"[0,1,2,3,4]","as":"c"},{"flatten":["c"]},{"calculate":"(datum.z+datum.z1)/2","as":"zc"},{"calculate":"(datum.c<2||datum.c==4)?datum.X:datum.X1","as":"PX"},{"calculate":"(datum.c<2||datum.c==4)?datum.z:datum.z1","as":"PZ"},{"calculate":"(datum.c==1||datum.c==2)?1000:0","as":"PB"},{"calculate":"608.3+0.235*(datum.PX+500)+0.1733*datum.PB","as":"sx"},{"calculate":"572.7-0.0547*(datum.PX+500)+0.0713*datum.PB-7.75*(datum.PZ-30)","as":"sy"}],"mark":{"type":"line","filled":true,"strokeWidth":1.6},"encoding":{"order":{"field":"c"},"detail":{"field":"q"},"fill":{"field":"zc","type":"quantitative","scale":{"domain":[32.8,38.65,44.5,48.4],"range":["#0b0000","#ff0000","#ffff00","#ffffff"],"interpolate":"rgb","nice":false,"zero":false,"clamp":true},"legend":null},"stroke":{"field":"zc","type":"quantitative","scale":{"domain":[32.8,38.65,44.5,48.4],"range":["#0b0000","#ff0000","#ffff00","#ffffff"],"interpolate":"rgb","nice":false,"zero":false,"clamp":true},"legend":null}}},
{"data":{"name":"textA"},"transform":[{"calculate":"67+0.318*(datum.X+500)+0.087*(datum.Y+500)","as":"sx"},{"calculate":"281+0.004*(datum.X+500)-0.016*(datum.Y+500)-3.567*(datum.Z-30)","as":"sy"}],"encoding":{"text":{"field":"t"}},"layer":[
{"transform":[{"filter":"datum.p=='tick'"}],"mark":{"type":"text","font":"Liberation Serif","fontSize":15,"color":"#4a4a4a","baseline":"middle"}},
{"transform":[{"filter":"datum.p=='title'"}],"mark":{"type":"text","font":"Liberation Serif","fontSize":17.5,"color":"#4a4a4a","baseline":"middle"}},
{"transform":[{"filter":"datum.p=='ztitle'"}],"mark":{"type":"text","font":"Liberation Serif","fontSize":17.5,"color":"#4a4a4a","baseline":"middle","angle":270}},
{"transform":[{"filter":"datum.p=='ytitle'"}],"mark":{"type":"text","font":"Liberation Serif","fontSize":19.3,"color":"#333333","baseline":"middle","angle":345}},
{"transform":[{"filter":"datum.p=='tag'"}],"mark":{"type":"text","font":"Liberation Serif, Noto Sans CJK SC","fontSize":12,"color":"#111111","baseline":"middle"}}]},
{"data":{"name":"textC"},"transform":[{"calculate":"67+0.318*(datum.X+500)+0.087*(datum.Y+500)","as":"sx"},{"calculate":"630.7+0.004*(datum.X+500)-0.016*(datum.Y+500)-3.567*(datum.Z-30)","as":"sy"}],"encoding":{"text":{"field":"t"}},"layer":[
{"transform":[{"filter":"datum.p=='tick'"}],"mark":{"type":"text","font":"Liberation Serif","fontSize":15,"color":"#4a4a4a","baseline":"middle"}},
{"transform":[{"filter":"datum.p=='title'"}],"mark":{"type":"text","font":"Liberation Serif","fontSize":17.5,"color":"#4a4a4a","baseline":"middle"}},
{"transform":[{"filter":"datum.p=='ztitle'"}],"mark":{"type":"text","font":"Liberation Serif","fontSize":17.5,"color":"#4a4a4a","baseline":"middle","angle":270}},
{"transform":[{"filter":"datum.p=='ytitle'"}],"mark":{"type":"text","font":"Liberation Serif","fontSize":18.5,"color":"#333333","baseline":"middle","angle":343}},
{"transform":[{"filter":"datum.p=='tag'"}],"mark":{"type":"text","font":"Liberation Serif, Noto Sans CJK SC","fontSize":12,"color":"#111111","baseline":"middle"}}]},
{"data":{"name":"textB"},"transform":[{"calculate":"573.7+0.327*(500-datum.Y)+0.0815*(datum.X+500)","as":"sx"},{"calculate":"267.3+0.0177*(500-datum.Y)-0.0698*(datum.X+500)-37.27*datum.Z","as":"sy"}],"encoding":{"text":{"field":"t"}},"layer":[
{"transform":[{"filter":"datum.p=='tick'"}],"mark":{"type":"text","font":"Liberation Serif","fontSize":15,"color":"#4a4a4a","baseline":"middle"}},
{"transform":[{"filter":"datum.p=='title'"}],"mark":{"type":"text","font":"Liberation Serif","fontSize":17.5,"color":"#4a4a4a","baseline":"middle"}},
{"transform":[{"filter":"datum.p=='ztitle'"}],"mark":{"type":"text","font":"Liberation Serif","fontSize":17.5,"color":"#4a4a4a","baseline":"middle","angle":270}},
{"transform":[{"filter":"datum.p=='xtitle'"}],"mark":{"type":"text","font":"Liberation Serif","fontSize":19.8,"color":"#333333","baseline":"middle","angle":318}},
{"transform":[{"filter":"datum.p=='tag'"}],"mark":{"type":"text","font":"Liberation Serif, Noto Sans CJK SC","fontSize":12,"color":"#111111","baseline":"middle"}}]},
{"data":{"name":"textD"},"transform":[{"calculate":"608.3+0.235*(datum.X+500)+0.1733*(500-datum.Y)","as":"sx"},{"calculate":"572.7-0.0547*(datum.X+500)+0.0713*(500-datum.Y)-7.75*(datum.Z-30)","as":"sy"}],"encoding":{"text":{"field":"t"}},"layer":[
{"transform":[{"filter":"datum.p=='tick'"}],"mark":{"type":"text","font":"Liberation Serif","fontSize":15,"color":"#4a4a4a","baseline":"middle"}},
{"transform":[{"filter":"datum.p=='title'"}],"mark":{"type":"text","font":"Liberation Serif","fontSize":17.5,"color":"#4a4a4a","baseline":"middle"}},
{"transform":[{"filter":"datum.p=='ztitle'"}],"mark":{"type":"text","font":"Liberation Serif","fontSize":17.5,"color":"#4a4a4a","baseline":"middle","angle":270}},
{"transform":[{"filter":"datum.p=='tag'"}],"mark":{"type":"text","font":"Liberation Serif, Noto Sans CJK SC","fontSize":12,"color":"#111111","baseline":"middle"}}]}
]}
